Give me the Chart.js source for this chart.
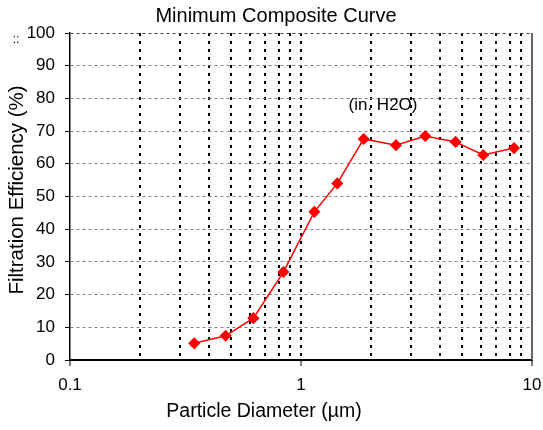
<!DOCTYPE html>
<html>
<head>
<meta charset="utf-8">
<script src="https://cdn.jsdelivr.net/npm/chart.js@4.4.1/dist/chart.umd.min.js"></script>
<style>
  body { margin: 0; background: #fff; }
  #wrap { width: 543px; height: 430px; }
</style>
</head>
<body>
<div id="wrap"><canvas id="chart1" width="543" height="430"></canvas></div>
<script>
/* chart values */
const diameters = [0.345, 0.472, 0.622, 0.839, 1.142, 1.436, 1.868, 2.578, 3.45, 4.67, 6.15, 8.36];
const efficiency = [5.1, 7.4, 12.8, 26.9, 45.3, 54.0, 67.6, 65.7, 68.5, 66.7, 62.7, 64.8];
const xTickValues = [0.1, 0.2, 0.3, 0.4, 0.5, 0.6, 0.7, 0.8, 0.9, 1, 2, 3, 4, 5, 6, 7, 8, 9, 10];
const xTickLabels = { 0.1: '0.1', 1: '1', 10: '10' };
const yTicks = [0, 10, 20, 30, 40, 50, 60, 70, 80, 90, 100];

const chartTitle = 'Minimum Composite Curve';
const xTitle = 'Particle Diameter (\u00b5m)';
const yTitle = 'Filtration Efficiency (%)';
const noteText = '(in. H2O)';

const FONT = 'Arial, "Liberation Sans", sans-serif';

/* plugin: titles, note and right frame line */
const textPlugin = {
	id: 'textPlugin',
	afterDraw(chart) {
		const c = chart.ctx;
		const a = chart.chartArea;
		c.save();
		// right frame
		c.strokeStyle = '#666';
		c.lineWidth = 2;
		c.beginPath();
		c.moveTo(a.right, a.top);
		c.lineTo(a.right, a.bottom);
		c.stroke();

		c.fillStyle = '#000';
		c.textAlign = 'center';
		c.textBaseline = 'middle';
		c.font = '20px ' + FONT;
		c.fillText(chartTitle, 276, 16);
		c.font = '19.5px ' + FONT;
		c.fillText(xTitle, 264, 412);
		c.font = '17px ' + FONT;
		c.fillText(noteText, 383, 105);
		c.font = '12px ' + FONT;
		c.fillText('::', 16, 40);

		c.translate(17.5, 190);
		c.rotate(-Math.PI / 2);
		c.font = '20.5px ' + FONT;
		c.fillText(yTitle, 0, 0);
		c.restore();
	}
};

const ctx1 = document.getElementById('chart1').getContext('2d');
const chart1 = new Chart(ctx1, {
	type: 'line',
	data: {
		datasets: [{
			data: diameters.map((d, i) => ({ x: d, y: efficiency[i] })),
			borderColor: '#ff0000',
			backgroundColor: '#ff0000',
			borderWidth: 1.5,
			pointStyle: 'rectRot',
			pointRadius: 5,
			pointHoverRadius: 5,
			tension: 0
		}]
	},
	options: {
		responsive: false,
		animation: false,
		events: [],
		layout: { padding: { top: 33, right: 11, left: 0, bottom: 0 } },
		plugins: {
			legend: { display: false },
			tooltip: { enabled: false },
			title: { display: false }
		},
		scales: {
			x: {
				type: 'logarithmic',
				min: 0.1,
				max: 10,
				afterBuildTicks: (scale) => {
					scale.ticks = xTickValues.map(v => ({ value: v }));
				},
				afterFit: (scale) => {
					scale.height = 70;
					scale.paddingLeft = 0;
					scale.paddingRight = 0;
				},
				ticks: {
					autoSkip: false,
					maxRotation: 0,
					padding: 9,
					color: '#000',
					font: { size: 17, family: FONT },
					callback: (value) => xTickLabels[value] || ''
				},
				grid: {
					color: (c) => {
						const v = c.tick ? c.tick.value : 0;
						return (v === 0.1 || v === 10) ? 'rgba(0,0,0,0)' : '#000';
					},
					lineWidth: 2,
					tickLength: 6,
					tickWidth: 1,
					tickBorderDash: [],
					tickColor: (c) => {
						const v = c.tick ? c.tick.value : 0;
						return xTickLabels[v] ? '#000' : 'rgba(0,0,0,0)';
					}
				},
				border: { color: '#000', width: 2, dash: [3, 5] }
			},
			y: {
				min: 0,
				max: 100,
				afterBuildTicks: (scale) => {
					scale.ticks = yTicks.map(v => ({ value: v }));
				},
				afterFit: (scale) => {
					scale.width = 70;
					scale.paddingTop = 0;
					scale.paddingBottom = 0;
				},
				ticks: {
					padding: 10,
					color: '#000',
					font: { size: 17, family: FONT }
				},
				grid: {
					color: (c) => (c.tick && c.tick.value === 100) ? '#444' : '#808080',
					lineWidth: 1,
					tickLength: 5,
					tickWidth: 1,
					tickBorderDash: [],
					tickColor: '#000'
				},
				border: { color: '#000', width: 1.5, dash: [3, 3] }
			}
		}
	},
	plugins: [textPlugin]
});
</script>
</body>
</html>
